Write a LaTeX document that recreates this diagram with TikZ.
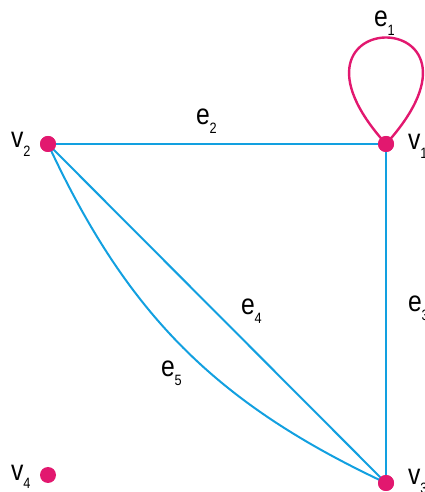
\documentclass[tikz,border=0pt]{standalone}
\usepackage{fontspec}
\setmainfont[FakeStretch=0.85]{Liberation Sans}
\usepackage{tikz}
\definecolor{vxpink}{HTML}{E2186F}
\definecolor{edgeblue}{HTML}{12A0E0}
\newcommand\lab[2]{{\fontsize{29}{29}\selectfont #1}\raisebox{-9pt}{\fontsize{15}{15}\selectfont #2}}
\tikzset{
  vertex/.style={circle, fill=vxpink, inner sep=0pt, minimum size=16pt},
  edge/.style={draw=edgeblue, line width=2pt},
  loopedge/.style={draw=vxpink, line width=2.4pt},
  glabel/.style={anchor=base west, inner sep=0pt, outer sep=0pt}
}

\begin{document}
\begin{tikzpicture}[x=1pt, y=1pt]
  \useasboundingbox (0,0) rectangle (425,492);

  \node[vertex] (v1) at (386,348) {};
  \node[vertex] (v2) at (48,348) {};
  \node[vertex] (v3) at (386,9) {};
  \node[vertex] (v4) at (48,17) {};

  % edges
  \draw[loopedge] (v1.center) .. controls +(-128,142) and +(128,142) .. (v1.center);
  \draw[edge] (v2.center) -- (v1.center);
  \draw[edge] (v1.center) -- (v3.center);
  \draw[edge] (v2.center) -- (v3.center);
  \draw[edge] (v2.center) to[bend right=20] (v3.center);
  \node[vertex] at (v1) {};
  \node[vertex] at (v2) {};
  \node[vertex] at (v3) {};

  % labels
  \node[glabel] (lv1) at (408,342) {\lab{v}{1}};
  \node[glabel] (lv2) at (11,344) {\lab{v}{2}};
  \node[glabel] (lv3) at (408,7) {\lab{v}{3}};
  \node[glabel] (lv4) at (11,12) {\lab{v}{4}};
  \node[glabel] (le1) at (374,465) {\lab{e}{1}};
  \node[glabel] (le2) at (196,367) {\lab{e}{2}};
  \node[glabel] (le3) at (408,180) {\lab{e}{3}};
  \node[glabel] (le4) at (241,177) {\lab{e}{4}};
  \node[glabel] (le5) at (161,115) {\lab{e}{5}};
\end{tikzpicture}
\end{document}
